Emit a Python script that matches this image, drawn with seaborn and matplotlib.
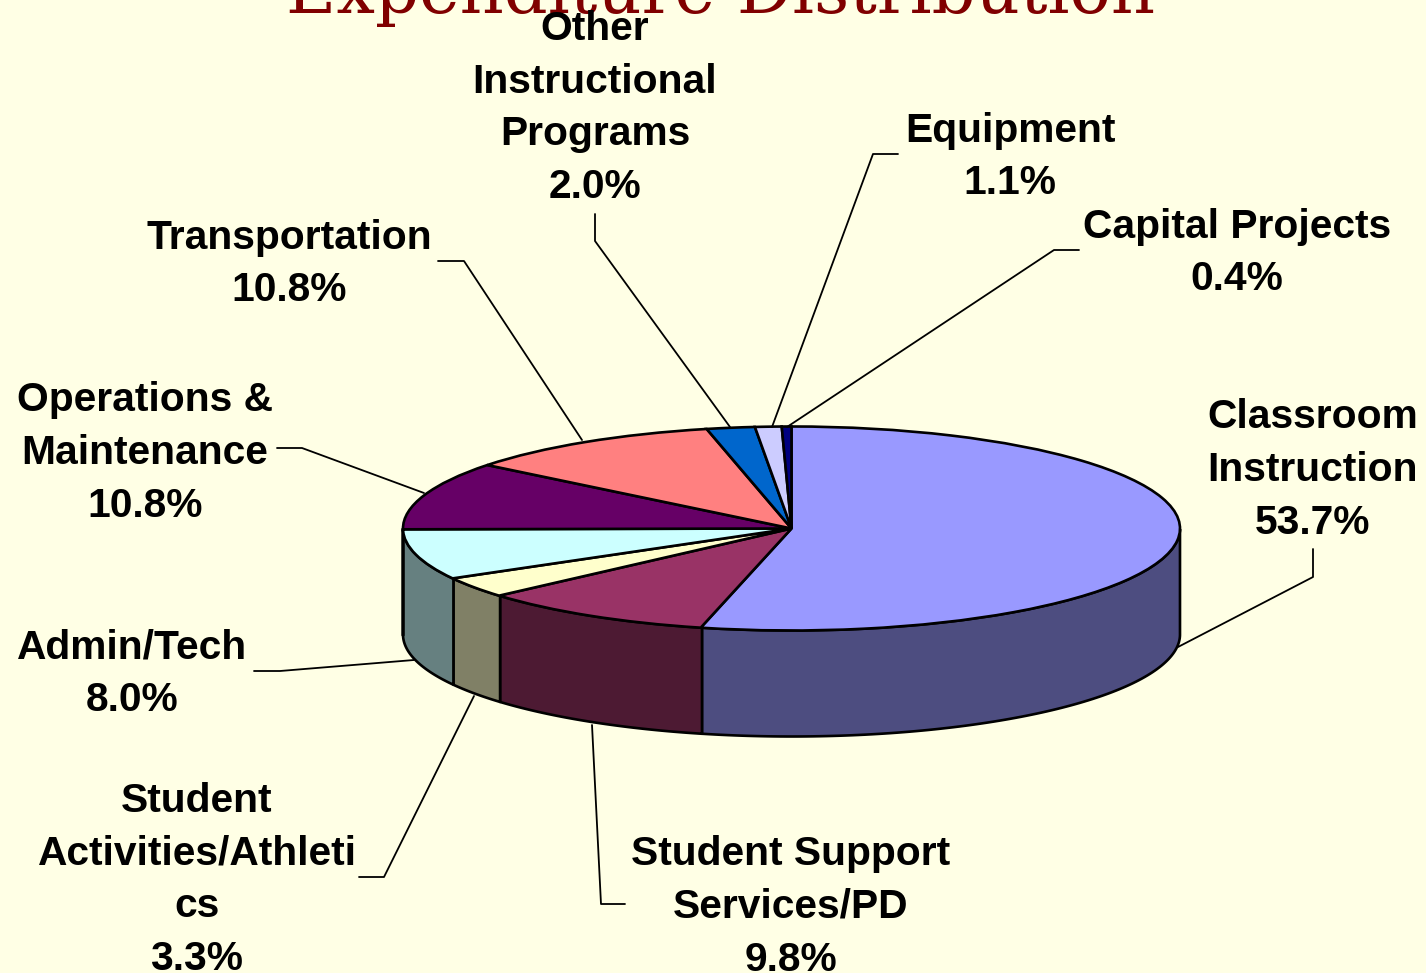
import numpy as np
import matplotlib
matplotlib.use("Agg")
import matplotlib.pyplot as plt
import seaborn as sns

categories = ["Classroom\nInstruction", "Student Support\nServices/PD", "Student\nActivities/Athleti\ncs",
              "Admin/Tech", "Operations &\nMaintenance", "Transportation",
              "Other\nInstructional\nPrograms", "Equipment", "Capital Projects"]
values = [53.7, 9.8, 3.3, 8.0, 10.8, 10.8, 2.0, 1.1, 0.4]
top_colors = ["#9999FF", "#993366", "#FFFFCC", "#CCFFFF", "#660066", "#FF8080", "#0066CC", "#CCCCFF", "#000080"]
side_colors = ["#4D4D80", "#4D1A33", "#808066", "#668080", "#330033", "#804040", "#003366", "#666680", "#000040"]
title = "Expenditure Distribution"

label_pos = [(1313, 470), (791, 907), (197, 880), (132, 674), (145, 453), (289, 264), (595, 108), (1010, 157), (1237, 253)]
leaders = [
    [(1313, 549), (1313, 577), (1178, 647)],
    [(592, 725), (601, 904), (625, 904)],
    [(474, 696), (384, 877), (359, 877)],
    [(414, 660), (280, 671), (254, 671)],
    [(424, 493), (302, 448), (277, 448)],
    [(582, 440), (464, 261), (438, 261)],
    [(730, 427), (595, 241), (595, 214)],
    [(772, 427), (873, 154), (898, 154)],
    [(787, 427), (1054, 250), (1079, 250)],
]

W, H = 1426, 973
CX, CY, RX, RY, DEPTH = 791.5, 528.5, 388.5, 102.0, 106.0
BG = "#FFFFE5"

sns.set_theme(style="white", rc={"figure.facecolor": BG, "axes.facecolor": BG})
plt.rcParams["font.family"] = ["Liberation Sans", "DejaVu Sans"]

fig = plt.figure(figsize=(W / 100, H / 100), dpi=100)
ax = fig.add_axes([0, 0, 1, 1])
d = DEPTH / RY

# front wall of the disc, derived from the shares
edges = 90 - 3.6 * np.cumsum([0] + values)
for i in range(len(values)):
    hi, lo = edges[i], edges[i + 1]
    t = np.radians(np.linspace(hi, lo, 200))
    t = t[np.sin(t) <= 0]
    if len(t) == 0:
        continue
    x, y = np.cos(t), np.sin(t)
    ax.fill(np.r_[x, x[::-1]], np.r_[y, y[::-1] - d], facecolor=side_colors[i],
            edgecolor="black", lw=1.9, joinstyle="round", zorder=1)

wedges, _ = ax.pie(values, colors=top_colors, startangle=90, counterclock=False, radius=1,
                   wedgeprops=dict(edgecolor="black", linewidth=1.9, zorder=2))
ax.set_aspect("auto")
ax.set_xlim(-CX / RX, (W - CX) / RX)
ax.set_ylim(-(H - CY) / RY, CY / RY)
ax.axis("off")

ov = fig.add_axes([0, 0, 1, 1], facecolor="none")
ov.set_xlim(0, W)
ov.set_ylim(H, 0)
ov.axis("off")
for seg in leaders:
    xs, ys = zip(*seg)
    ov.plot(xs, ys, color="black", lw=1.3, zorder=3)
for (x, y), cat, v in zip(label_pos, categories, values):
    ov.text(x, y, f"{cat}\n{v:.1f}%", ha="center", va="center", fontsize=29.3, fontweight="bold",
            color="black", linespacing=1.485, zorder=5)
ov.text(720, 13, title, ha="center", va="baseline", fontsize=49.5, family=["DejaVu Serif"],
        color="#800000", zorder=4)

fig.savefig("out.png", dpi=100, facecolor=BG)
